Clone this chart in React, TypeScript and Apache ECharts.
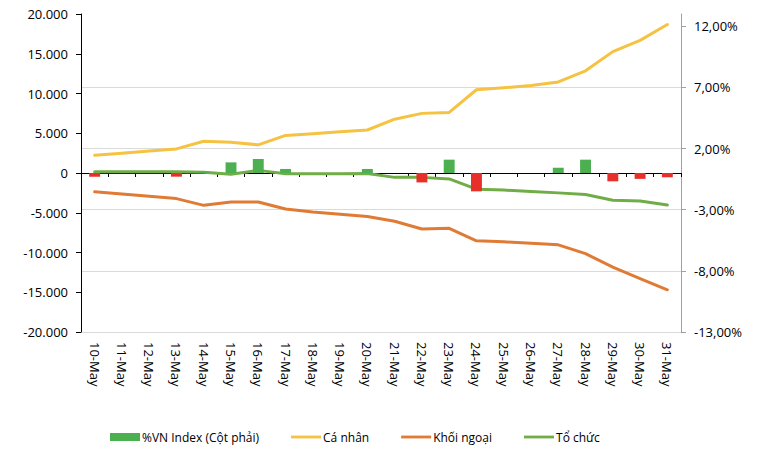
import React, { useEffect, useRef } from "react";
import * as echarts from "echarts";

const categories = [
  "10-May", "11-May", "12-May", "13-May", "14-May", "15-May", "16-May", "17-May",
  "18-May", "19-May", "20-May", "21-May", "22-May", "23-May", "24-May", "25-May",
  "26-May", "27-May", "28-May", "29-May", "30-May", "31-May",
];

// %VN Index (right axis, %)
const vnIndex = [
  -0.3, 0, 0, -0.3, 0.1, 0.87, 1.15, 0.33, 0, 0, 0.33, 0, -0.77, 1.09, -1.5, 0, 0,
  0.43, 1.09, -0.68, -0.48, -0.35,
];

// Cá nhân (left axis)
const caNhan = [
  2220, 2490, 2760, 3030, 4000, 3880, 3540, 4730, 4950, 5200, 5410, 6770, 7500,
  7620, 10470, 10720, 11020, 11450, 12850, 15270, 16680, 18670,
];

// Khối ngoại (left axis)
const khoiNgoai = [
  -2370, -2650, -2930, -3220, -4070, -3640, -3640, -4530, -4900, -5180, -5470,
  -6070, -7040, -6960, -8530, -8660, -8830, -9040, -10150, -11840, -13290, -14690,
];

// Tổ chức (left axis)
const toChuc = [
  150, 150, 150, 150, 80, -150, 330, -100, -100, -100, -50, -550, -550, -750,
  -2030, -2150, -2320, -2500, -2710, -3430, -3520, -4030,
];

const leftTicks = { min: -20000, max: 20000, interval: 5000 };
const rightTicks = { min: -13, max: 13, interval: 5 };
const rightTickValues = [-13, -8, -3, 2, 7, 12];

const FONT = "'Open Sans', sans-serif";
const GREEN_BAR = "#4CAF50";
const RED_BAR = "#E8302A";
const YELLOW = "#F5C242";
const ORANGE = "#E07B35";
const GREEN_LINE = "#70AD47";
const LINE_ICON = "path://M0 0H32V3H0Z";

function fmtThousands(v: number): string {
  const s = Math.abs(v).toFixed(0).replace(/\B(?=(\d{3})+(?!\d))/g, ".");
  return (v < 0 ? "-" : "") + s;
}

export default function App() {
  const ref = useRef<HTMLDivElement>(null);

  useEffect(() => {
    if (!ref.current) return;
    const chart = echarts.init(ref.current, undefined, { renderer: "svg" });
    const option: any = {
      animation: false,
      backgroundColor: "#ffffff",
      textStyle: { fontFamily: FONT },
      grid: {
        left: 81,
        right: 84,
        top: 14,
        bottom: 124,
        containLabel: false,
        outerBoundsMode: "none",
      },
      legend: {
        left: 105,
        top: 426,
        itemGap: 32,
        itemWidth: 30,
        itemHeight: 8,
        textStyle: {
          fontFamily: FONT,
          fontSize: 12,
          color: "#000",
          padding: [0, 0, 0, -3],
        },
        data: [
          { name: "%VN Index (Cột phải)", icon: "rect" },
          { name: "Cá nhân", icon: LINE_ICON },
          { name: "Khối ngoại", icon: LINE_ICON },
          { name: "Tổ chức", icon: LINE_ICON },
        ],
      },
      xAxis: [
        {
          type: "category",
          data: categories,
          position: "bottom",
          boundaryGap: true,
          axisLine: { show: false, onZero: false },
          axisTick: { show: false },
          axisLabel: {
            rotate: -90,
            margin: 10,
            fontFamily: FONT,
            fontSize: 13,
            color: "#000",
            interval: 0,
          },
          splitLine: { show: false },
        },
        {
          type: "category",
          data: categories,
          position: "top",
          boundaryGap: true,
          axisLine: {
            show: true,
            onZero: true,
            onZeroAxisIndex: 0,
            lineStyle: { color: "#000", width: 1 },
          },
          axisTick: {
            show: true,
            inside: true,
            length: 4,
            interval: 0,
            lineStyle: { color: "#000", width: 1 },
          },
          axisLabel: { show: false },
          splitLine: { show: false },
        },
      ],
      yAxis: [
        {
          type: "value",
          position: "left",
          min: leftTicks.min,
          max: leftTicks.max,
          interval: leftTicks.interval,
          axisLine: { show: true, lineStyle: { color: "#000", width: 1 } },
          axisTick: { show: true, length: 5, lineStyle: { color: "#000" } },
          axisLabel: {
            margin: 13,
            fontFamily: FONT,
            fontSize: 13,
            color: "#000",
            formatter: (v: number) => fmtThousands(v),
          },
          splitLine: { show: false },
        },
        {
          type: "value",
          position: "right",
          min: rightTicks.min,
          max: rightTicks.max,
          interval: rightTicks.interval,
          axisLine: { show: true, lineStyle: { color: "#A0A0A0", width: 1 } },
          axisTick: {
            show: true,
            length: 5,
            customValues: rightTickValues,
            lineStyle: { color: "#A0A0A0" },
          },
          axisLabel: {
            margin: 13,
            fontFamily: FONT,
            fontSize: 13,
            color: "#000",
            showMaxLabel: false,
            formatter: (v: number) =>
              v === rightTicks.max ? "" : v.toFixed(2).replace(".", ",") + "%",
          },
          splitLine: {
            show: true,
            showMaxLine: false,
            lineStyle: { color: "#DADADA", width: 1 },
          },
        },
      ],
      series: [
        {
          name: "Cá nhân",
          type: "line",
          xAxisIndex: 0,
          yAxisIndex: 0,
          data: caNhan,
          symbol: "none",
          showSymbol: false,
          lineStyle: { color: YELLOW, width: 3, cap: "round", join: "round" },
          itemStyle: { color: YELLOW },
          z: 2,
        },
        {
          name: "Khối ngoại",
          type: "line",
          xAxisIndex: 0,
          yAxisIndex: 0,
          data: khoiNgoai,
          symbol: "none",
          showSymbol: false,
          lineStyle: { color: ORANGE, width: 3, cap: "round", join: "round" },
          itemStyle: { color: ORANGE },
          z: 2,
        },
        {
          name: "Tổ chức",
          type: "line",
          xAxisIndex: 0,
          yAxisIndex: 0,
          data: toChuc,
          symbol: "none",
          showSymbol: false,
          lineStyle: { color: GREEN_LINE, width: 3, cap: "round", join: "round" },
          itemStyle: { color: GREEN_LINE },
          z: 2,
        },
        {
          name: "%VN Index (Cột phải)",
          type: "bar",
          xAxisIndex: 0,
          yAxisIndex: 1,
          barWidth: "40%",
          itemStyle: { color: GREEN_BAR },
          data: vnIndex.map((v) => ({
            value: v,
            itemStyle: { color: v >= 0 ? GREEN_BAR : RED_BAR },
          })),
          z: 3,
        },
      ],
    };
    chart.setOption(option);
    return () => chart.dispose();
  }, []);

  return (
    <div
      ref={ref}
      style={{ position: "fixed", left: 0, top: 0, width: 765, height: 456, background: "#fff" }}
    />
  );
}
